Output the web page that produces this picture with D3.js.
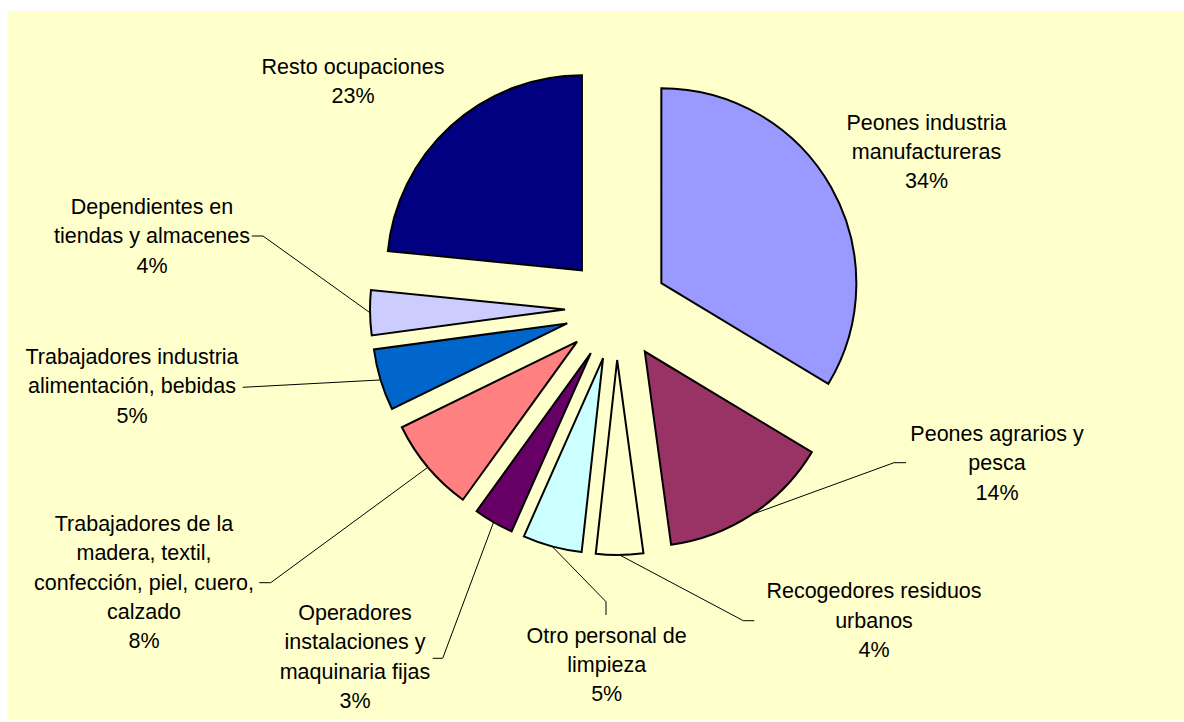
<!DOCTYPE html>
<html>
<head>
<meta charset="utf-8">
<script src="https://cdn.jsdelivr.net/npm/d3@7"></script>
<style>
  body { margin: 0; background: #ffffff; }
</style>
</head>
<body>
<div id="graph-container"></div>
<script>
// data
const categories = [
  'Peones industria\nmanufactureras',
  'Peones agrarios y\npesca',
  'Recogedores residuos\nurbanos',
  'Otro personal de\nlimpieza',
  'Operadores\ninstalaciones y\nmaquinaria fijas',
  'Trabajadores de la\nmadera, textil,\nconfección, piel, cuero,\ncalzado',
  'Trabajadores industria\nalimentación, bebidas',
  'Dependientes en\ntiendas y almacenes',
  'Resto ocupaciones'
]
const values = [33.6, 14.2, 3.9, 4.9, 3.3, 7.8, 5.1, 3.7, 23.4]
const colors = ['#9999FF', '#993366', '#FFFFCC', '#CCFFFF', '#660066', '#FF8080', '#0066CC', '#CCCCFF', '#000080']

// label layout (center x, first baseline) and leader line bends
const labelPos = [[926.5, 129.5], [997, 441], [874, 598.3], [606.7, 642.5], [355, 620], [144, 531], [132, 364], [152, 214], [353, 74]]
const leaderPts = [
  null,
  [[894, 462.7], [906, 462.7]],
  [[743.3, 620.7], [754.3, 620.7]],
  [[606, 601.7], [606, 615]],
  [[442.7, 658.3], [432.7, 658.3]],
  [[270.7, 582.7], [259.3, 582.7]],
  [[242.7, 387.3]],
  [[263, 236], [251.7, 236]],
  null
]

const main = () => {
  const width = 1184
  const height = 722
  const cx = 616.5
  const cy = 308.5
  const radius = 195
  const explode = 51.5
  const lineGap = 29.3
  const fontSize = 21.5
  const dataToJoin = [1]

  const svg = d3.select('#graph-container').selectAll('svg#svg-container')
    .data(dataToJoin)
    .join('svg')
    .attr('id', 'svg-container')
    .attr('width', width)
    .attr('height', height)

  // chart area background
  svg.selectAll('rect#plot-bg')
    .data(dataToJoin)
    .join('rect')
    .attr('id', 'plot-bg')
    .attr('x', 7.5)
    .attr('y', 11)
    .attr('width', width - 7.5)
    .attr('height', 709)
    .attr('fill', '#FFFFCC')

  const total = d3.sum(values)
  const pct = d3.format('.0%')
  const slices = d3.pie().sort(null).value((d) => d)(values)
  const arc = d3.arc().innerRadius(0).outerRadius(radius)

  const mid = (d) => (d.startAngle + d.endAngle) / 2
  const offset = (d, r) => [Math.sin(mid(d)) * r, -Math.cos(mid(d)) * r]

  const pie = svg.selectAll('g#pie')
    .data(dataToJoin)
    .join('g')
    .attr('id', 'pie')
    .attr('transform', `translate(${cx},${cy})`)

  // leader lines first so the slices sit on top
  const leaders = slices.map((d, i) => {
    if (!leaderPts[i]) return null
    const p = offset(d, radius + explode)
    return [[cx + p[0], cy + p[1]], ...leaderPts[i]]
  }).filter((d) => d)

  svg.selectAll('path.leader')
    .data(leaders)
    .join('path')
    .attr('class', 'leader')
    .attr('d', (d) => d3.line()(d))
    .attr('fill', 'none')
    .attr('stroke', '#000')
    .attr('stroke-width', 1)

  pie.selectAll('path.slice')
    .data(slices)
    .join('path')
    .attr('class', 'slice')
    .attr('transform', (d) => `translate(${offset(d, explode)})`)
    .attr('d', arc)
    .attr('fill', (d, i) => colors[i])
    .attr('stroke', '#000')
    .attr('stroke-width', 2)

  // labels
  const labels = svg.selectAll('text.slice-label')
    .data(slices)
    .join('text')
    .attr('class', 'slice-label')
    .attr('x', (d, i) => labelPos[i][0])
    .attr('y', (d, i) => labelPos[i][1])
    .attr('font-family', 'Liberation Sans, Arial, sans-serif')
    .attr('font-size', fontSize)
    .attr('fill', '#000')
    .attr('text-anchor', 'middle')

  labels.selectAll('tspan')
    .data((d, i) => [...categories[i].split('\n'), pct(d.value / total)].map((t) => ({ t, x: labelPos[i][0] })))
    .join('tspan')
    .attr('x', (d) => d.x)
    .attr('dy', (d, j) => j === 0 ? 0 : lineGap)
    .text((d) => d.t)
}

main()
</script>
</body>
</html>
